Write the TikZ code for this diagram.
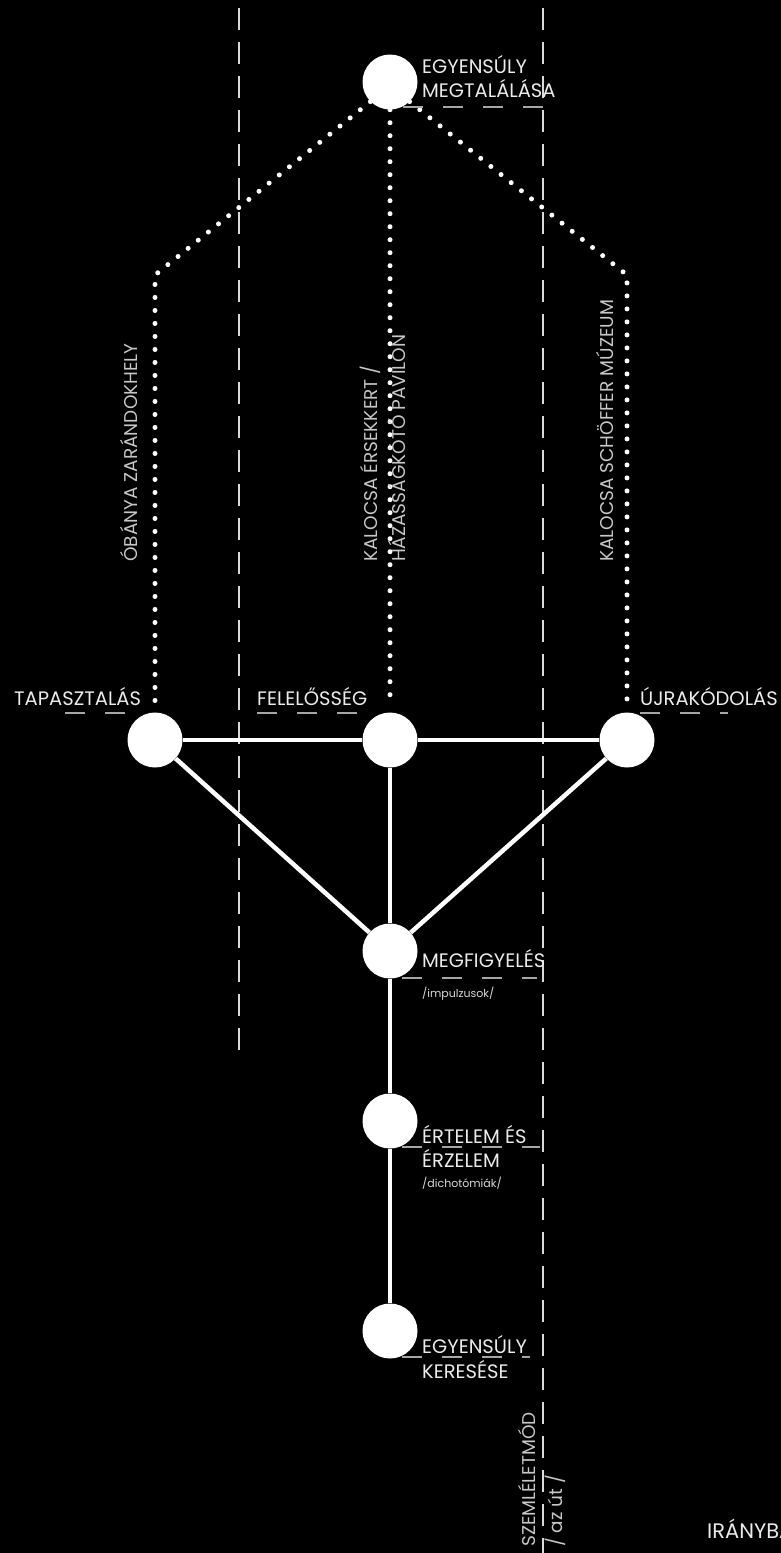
\documentclass[tikz,border=0pt]{standalone}
\usepackage{fontspec}
\setmainfont{Poppins}
\begin{document}
\begin{tikzpicture}[x=1pt,y=-1pt,
  dot/.style={circle,fill=white,minimum size=55pt,inner sep=0pt},
  solid link/.style={white,line width=4.5pt},
  dotted link/.style={white,line width=5pt,line cap=round,dash pattern=on 0pt off 13pt},
  guide/.style={white!85!black,line width=1.3pt,dash pattern=on 22pt off 12pt},
  ul/.style={white!65!black,line width=1.3pt,dash pattern=on 20pt off 20pt},
  lbl/.style={text=white!92!black,inner sep=0pt,anchor=base west,font=\fontsize{19.5}{23}\selectfont},
  sublbl/.style={text=white!85!black,inner sep=0pt,anchor=base west,font=\fontsize{11}{13}\selectfont},
  vlbl/.style={text=white!78!black,inner sep=0pt,anchor=base west,rotate=90,font=\fontsize{18.5}{22}\selectfont}]
\useasboundingbox (0,0) rectangle (781,1553);
\fill[black] (0,0) rectangle (781,1553);
\clip (0,0) rectangle (781,1553);

% guide lines
\coordinate (gl1) at (239,8);
\coordinate (gl2) at (239,1060);
\coordinate (gr1) at (543,8);
\coordinate (gr2) at (543,1553);
\draw[guide] (gl1) -- (gl2);
\draw[guide] (gr1) -- (gr2);

% circles
\node[dot] (top) at (390,82) {};
\node[dot] (tap) at (155,740) {};
\node[dot] (fel) at (390,740) {};
\node[dot] (ujr) at (627,740) {};
\node[dot] (meg) at (390,951) {};
\node[dot] (ert) at (390,1121) {};
\node[dot] (egy) at (390,1331) {};

% solid links
\draw[solid link] (tap) -- (fel);
\draw[solid link] (fel) -- (ujr);
\draw[solid link] (tap) -- (meg);
\draw[solid link] (ujr) -- (meg);
\draw[solid link] (fel) -- (meg);
\draw[solid link] (meg) -- (ert);
\draw[solid link] (ert) -- (egy);

% dotted links
\coordinate (cl) at (155,275);
\coordinate (cr) at (627,275);
\draw[dotted link,shorten >=10pt] (top.-135) -- (cl) -- (tap);
\draw[dotted link,shorten >=10pt] (top.-45) -- (cr) -- (ujr);
\draw[dotted link,shorten >=10pt,shorten <=0pt] (top) -- (fel);

% vertical labels
\node[vlbl] (lob) at (137,562) {ÓBÁNYA ZARÁNDOKHELY};
\node[vlbl] (lka1) at (377,562) {KALOCSA ÉRSEKKERT /};
\node[vlbl] (lka2) at (405,562) {HÁZASSÁGKÖTŐ PAVILON};
\node[vlbl] (lsch) at (613,562) {KALOCSA SCHÖFFER MÚZEUM};
\node[vlbl] (lsz) at (535,1547) {SZEMLÉLETMÓD};
\node[vlbl] (laz) at (562,1547) {/ az út /};

% labels
\node[lbl] (t1a) at (422,73) {EGYENSÚLY};
\node[lbl] (t1b) at (422,97) {MEGTALÁLÁSA};
\draw[ul] (403,107) -- (545,107);

\node[lbl] (t2) at (14,705) {TAPASZTALÁS};
\draw[ul] (65,713) -- (140,713);

\node[lbl] (t3) at (257,705) {FELELŐSSÉG};
\draw[ul] (257,713) -- (375,713);

\node[lbl] (t4) at (640,705) {ÚJRAKÓDOLÁS};
\draw[ul] (640,713) -- (728,713);

\node[lbl] (t5) at (422,967) {MEGFIGYELÉS};
\draw[ul] (402,978) -- (537,978);
\node[sublbl] (t5s) at (422,997) {/impulzusok/};

\node[lbl] (t6a) at (422,1143) {ÉRTELEM ÉS};
\draw[ul] (402,1147) -- (540,1147);
\node[lbl] (t6b) at (422,1167) {ÉRZELEM};
\node[sublbl] (t6s) at (422,1187) {/dichotómiák/};

\node[lbl] (t7a) at (422,1353) {EGYENSÚLY};
\draw[ul] (402,1357) -- (530,1357);
\node[lbl] (t7b) at (422,1378) {KERESÉSE};

\node[lbl,font=\fontsize{21}{25}\selectfont] (t8) at (707,1538) {IRÁNYBA};
\end{tikzpicture}
\end{document}
